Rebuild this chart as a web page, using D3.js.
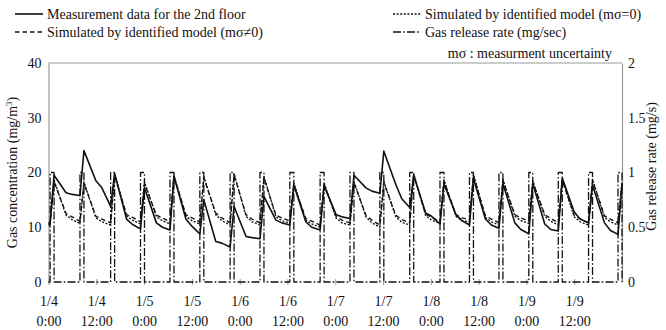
<!DOCTYPE html>
<html>
<head>
<meta charset="utf-8">
<script src="https://cdn.jsdelivr.net/npm/d3@7"></script>
<style>
  body { margin: 0; background: #fff; }
</style>
</head>
<body>
<div id="chart"></div>
<script>
// hours since 1/4 0:00, one entry per gas release pulse
const pulseOn = [0.4, 7.9, 15.6, 23.1, 30.5, 38.0, 45.6, 53.1, 60.6, 68.2,
                 75.7, 83.2, 90.7, 98.3, 105.7, 113.1, 120.6, 128.0, 135.6, 143.0];
const pulseHours = 1.0;      // release lasts about one hour
const releaseRate = 1.0;     // mg/s while releasing

// hours after the pulse start where the curve shapes are read
const peakAt = 1.0, kneeAt = 4.0, plateauAt = 5.5;

// measured data, 2nd floor (mg/m3): value at pulse start, peak, knee, plateau
const measStart   = [10.8, 15.8, 13.8, 9.7, 9.5, 8.8, 6.4, 7.9, 10.4, 9.5,
                     11.6, 16.2, 13.6, 10.6, 10.4, 9.8, 8.8, 9.3, 10.8, 8.7];
const measPeak    = [19.5, 24.0, 19.8, 17.2, 19.3, 15.0, 13.8, 15.6, 17.7, 17.6,
                     19.5, 23.9, 19.5, 17.9, 18.9, 18.0, 18.0, 19.0, 17.7, 18.0];
const measKnee    = [16.3, 18.5, 11.5, 10.8, 11.5, 7.4, 8.3, 11.3, 11.0, 12.3,
                     17.2, 17.8, 12.6, 12.3, 11.5, 10.8, 10.6, 12.8, 10.8];
const measPlateau = [16.0, 17.2, 10.5, 10.0, 10.2, 7.1, 8.1, 10.8, 10.0, 11.9,
                     16.6, 15.2, 12.0, 11.2, 10.4, 9.6, 9.6, 11.5, 9.4];

// simulated by identified model, m-sigma != 0
const simStart   = [10.6, 11.1, 10.8, 11.0, 11.0, 11.0, 10.8, 10.8, 11.2, 10.4,
                    10.8, 10.4, 10.8, 11.1, 11.4, 10.8, 11.1, 10.8, 10.8, 10.8];
const simPeak    = [18.3, 18.0, 19.5, 18.0, 19.2, 19.0, 19.5, 19.0, 17.8, 17.8,
                    18.1, 18.1, 19.5, 18.4, 19.4, 18.5, 18.2, 18.5, 18.5, 18.0];
const simKnee    = [12.5, 12.0, 12.3, 12.2, 12.3, 12.6, 12.3, 12.2, 11.6, 12.0,
                    12.2, 12.2, 12.4, 12.3, 12.1, 12.3, 12.3, 12.2, 12.1];
const simPlateau = [11.9, 11.5, 11.8, 11.7, 11.7, 11.7, 11.5, 11.7, 11.1, 11.3,
                    11.3, 11.4, 11.8, 11.7, 11.5, 11.7, 11.6, 11.5, 11.5];

// simulated by identified model, m-sigma = 0
const sim0Start   = [10.4, 10.7, 10.4, 10.6, 10.6, 10.6, 10.4, 10.4, 10.8, 10.0,
                     10.4, 10.0, 10.4, 10.7, 11.0, 10.4, 10.7, 10.4, 10.4, 10.4];
const sim0Peak    = [18.6, 18.3, 19.8, 18.3, 19.5, 19.3, 19.8, 19.3, 18.1, 18.1,
                     18.4, 18.4, 19.8, 18.7, 19.7, 18.8, 18.5, 18.8, 18.8, 18.3];
const sim0Knee    = [12.2, 11.7, 12.0, 11.9, 12.0, 12.3, 12.0, 11.9, 11.3, 11.7,
                     11.9, 11.9, 12.1, 12.0, 11.8, 12.0, 12.0, 11.9, 11.8];
const sim0Plateau = [11.4, 11.0, 11.3, 11.2, 11.2, 11.2, 11.0, 11.2, 10.6, 10.8,
                     10.8, 10.9, 11.3, 11.2, 11.0, 11.2, 11.1, 11.0, 11.0];

const xTickHours = [0, 12, 24, 36, 48, 60, 72, 84, 96, 108, 120, 132];
const xTickDay   = ["1/4", "1/4", "1/5", "1/5", "1/6", "1/6", "1/7", "1/7", "1/8", "1/8", "1/9", "1/9"];
const xTickTime  = ["0:00", "12:00", "0:00", "12:00", "0:00", "12:00", "0:00", "12:00", "0:00", "12:00", "0:00", "12:00"];
const leftTicks  = [0, 10, 20, 30, 40];
const rightTicks = [0, 0.5, 1, 1.5, 2];

const width = 666, height = 330;
const plot = {left: 48.5, right: 622, top: 63, bottom: 282};
const ink = "#111", frame = "#9a9a9a";
const serif = "'Liberation Serif', 'Times New Roman', serif";

const styles = {
  meas:    {dash: null,            w: 1.6},
  sim0:    {dash: "2,1.6",         w: 1.35},
  sim:     {dash: "4.5,3",         w: 1.35},
  release: {dash: "8,2.2,1.6,2.2", w: 1.3}
};

const svg = d3.select("#chart").append("svg")
  .attr("width", width).attr("height", height)
  .style("font-family", serif);

const x  = d3.scaleLinear().domain([0, 144]).range([plot.left, plot.right]);
const yL = d3.scaleLinear().domain([0, 40]).range([plot.bottom, plot.top]);
const yR = d3.scaleLinear().domain([0, 2]).range([plot.bottom, plot.top]);

// build a concentration polyline from the per-cycle readings
function cycles(start, peak, knee, plateau) {
  const pts = [[0, start[0]]];
  pulseOn.forEach((t, i) => {
    pts.push([t, start[i]]);
    pts.push([Math.min(t + peakAt, 144), peak[i]]);
    if (knee[i] !== undefined) pts.push([t + kneeAt, knee[i]]);
    if (plateau[i] !== undefined) pts.push([t + plateauAt, plateau[i]]);
  });
  return pts;
}

const releasePts = [[0, 0]];
pulseOn.forEach(t => {
  const off = Math.min(t + pulseHours, 144);
  releasePts.push([t, 0], [t, releaseRate], [off, releaseRate], [off, 0]);
});
releasePts.push([144, 0]);

// frame: top, left and right lines
svg.append("line")
  .attr("x1", plot.left).attr("x2", plot.right)
  .attr("y1", plot.top).attr("y2", plot.top)
  .attr("stroke", frame).attr("stroke-width", 1.2);

function styleAxis(g) {
  g.attr("font-family", null).attr("font-size", null);
  g.selectAll("text")
    .style("font-family", serif).style("font-size", "14px").attr("fill", ink);
  g.select(".domain").attr("stroke", frame).attr("stroke-width", 1.2);
}

svg.append("g")
  .attr("transform", `translate(${plot.left},0)`)
  .call(d3.axisLeft(yL).tickValues(leftTicks).tickSize(0).tickPadding(7))
  .call(styleAxis);

svg.append("g")
  .attr("transform", `translate(${plot.right},0)`)
  .call(d3.axisRight(yR).tickValues(rightTicks).tickSize(0).tickPadding(6)
    .tickFormat(d => d))
  .call(styleAxis);

const xAxis = svg.append("g")
  .attr("transform", `translate(0,${plot.bottom})`)
  .call(d3.axisBottom(x).tickValues(xTickHours).tickSize(3).tickFormat(""));
xAxis.select(".domain").remove();
xAxis.selectAll(".tick line").attr("y1", -3).attr("stroke", frame);
xAxis.selectAll(".tick text").remove();
xAxis.selectAll(".tick").append("text")
  .attr("text-anchor", "middle")
  .each(function(d, i) {
    const t = d3.select(this);
    t.append("tspan").attr("x", 0).attr("y", 24).text(xTickDay[i]);
    t.append("tspan").attr("x", 0).attr("y", 44).text(xTickTime[i]);
  });
xAxis.call(styleAxis);

// axis titles
svg.append("text")
  .attr("transform", `translate(17,${(plot.top + plot.bottom) / 2}) rotate(-90)`)
  .attr("text-anchor", "middle").attr("font-size", 14).attr("fill", ink)
  .call(t => {
    t.append("tspan").text("Gas concentration (mg/m");
    t.append("tspan").attr("font-size", 9).attr("dy", -5).text("3");
    t.append("tspan").attr("dy", 5).text(")");
  });

svg.append("text")
  .attr("transform", `translate(656,${(plot.top + plot.bottom) / 2 - 6}) rotate(-90)`)
  .attr("text-anchor", "middle").attr("font-size", 14).attr("fill", ink)
  .text("Gas release rate (mg/s)");

// series
const lineL = d3.line().x(d => x(d[0])).y(d => yL(d[1]));
const lineR = d3.line().x(d => x(d[0])).y(d => yR(d[1]));

function draw(name, pts, gen, st) {
  svg.append("path").datum(pts)
    .attr("class", name)
    .attr("d", gen)
    .attr("fill", "none")
    .attr("stroke", ink)
    .attr("stroke-width", st.w)
    .attr("stroke-dasharray", st.dash)
    .attr("stroke-linejoin", "round");
}

draw("release", releasePts, lineR, styles.release);
draw("sim0", cycles(sim0Start, sim0Peak, sim0Knee, sim0Plateau), lineL, styles.sim0);
draw("sim", cycles(simStart, simPeak, simKnee, simPlateau), lineL, styles.sim);
draw("meas", cycles(measStart, measPeak, measKnee, measPlateau), lineL, styles.meas);

// legend
const legendItems = [
  {label: "Measurement data for the 2nd floor", st: styles.meas, x: 15, y: 14},
  {label: "Simulated by identified model (m\u03c3=0)", st: styles.sim0, x: 393, y: 14},
  {label: "Simulated by identified model (m\u03c3\u22600)", st: styles.sim, x: 15, y: 32},
  {label: "Gas release rate (mg/sec)", st: styles.release, x: 393, y: 32}
];
const lg = svg.append("g").selectAll("g").data(legendItems).join("g")
  .attr("transform", d => `translate(${d.x},${d.y})`);
lg.append("line")
  .attr("x1", 0).attr("x2", 28).attr("y1", 0).attr("y2", 0)
  .attr("stroke", ink)
  .attr("stroke-width", d => d.st.w)
  .attr("stroke-dasharray", d => d.st.dash);
lg.append("text")
  .attr("x", 32).attr("y", 5)
  .attr("font-size", 14).attr("fill", ink)
  .text(d => d.label);

svg.append("text")
  .attr("x", 612).attr("y", 58)
  .attr("text-anchor", "end").attr("font-size", 14).attr("fill", ink)
  .text("m\u03c3 : measurment uncertainty");
</script>
</body>
</html>
